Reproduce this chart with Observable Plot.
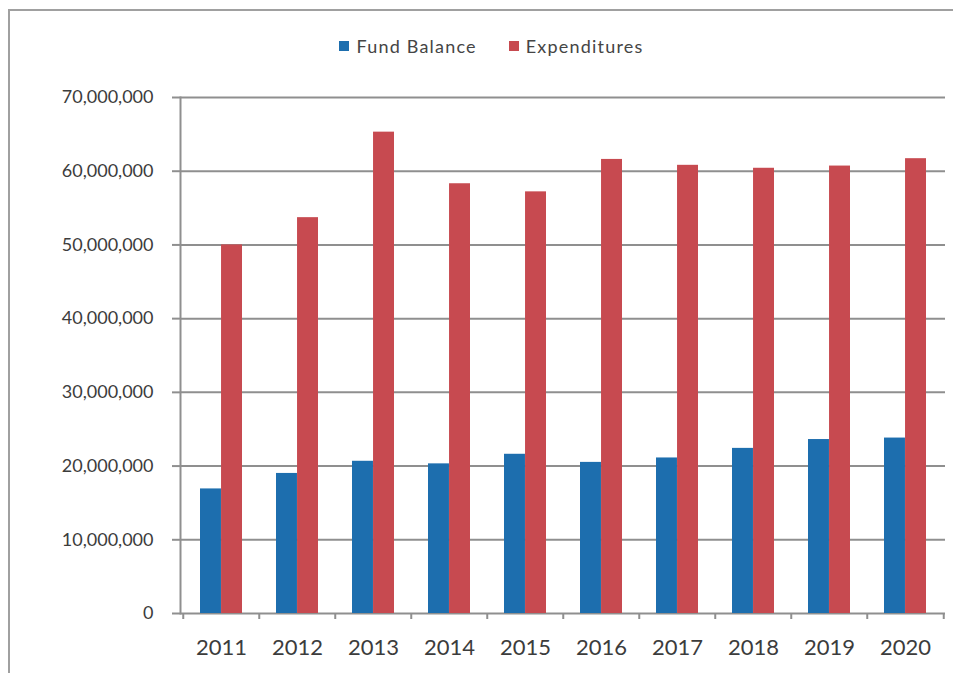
<!DOCTYPE html>
<html>
<head>
<meta charset="utf-8">
<script src="https://cdn.jsdelivr.net/npm/d3@7"></script>
<script src="https://cdn.jsdelivr.net/npm/@observablehq/plot@0.6"></script>
<style>
  html, body { margin: 0; padding: 0; background: #fff; }
  #wrap { position: relative; width: 953px; height: 673px; overflow: hidden; font-family: Lato, "Open Sans", sans-serif; }
  #frame { position: absolute; left: 8px; top: 9px; width: 960px; height: 700px; border: 2px solid #a0a0a0; box-sizing: border-box; }
  #legend { position: absolute; left: 0; top: 0; width: 953px; height: 70px; display: flex; justify-content: center; align-items: flex-start; padding-top: 35px; box-sizing: border-box; font-size: 18px; letter-spacing: 1.2px; color: #454545; gap: 32px; padding-left: 30px; }
  #legend .item { display: flex; align-items: center; gap: 7px; }
  #legend .sw { width: 10px; height: 10px; display: inline-block; }
  #chart { position: absolute; left: 0; top: 70px; }
</style>
</head>
<body>
<div id="wrap">
  <div id="frame"></div>
  <div id="legend"></div>
  <div id="chart"></div>
</div>
<script>
const years = ["2011","2012","2013","2014","2015","2016","2017","2018","2019","2020"];
const fundBalance = [16900000, 19000000, 20650000, 20300000, 21600000, 20500000, 21100000, 22400000, 23600000, 23800000];
const expenditures = [50000000, 53700000, 65300000, 58300000, 57200000, 61600000, 60800000, 60400000, 60700000, 61700000];
const seriesNames = ["Fund Balance", "Expenditures"];
const seriesColors = ["#1d6eae", "#c74a50"];
const yTicks = [0, 10000000, 20000000, 30000000, 40000000, 50000000, 60000000, 70000000];

const fbData = years.map((y, i) => ({year: y, value: fundBalance[i]}));
const exData = years.map((y, i) => ({year: y, value: expenditures[i]}));

// legend
const legend = document.getElementById("legend");
seriesNames.forEach((n, i) => {
  const it = document.createElement("span");
  it.className = "item";
  const sw = document.createElement("span");
  sw.className = "sw";
  sw.style.background = seriesColors[i];
  const t = document.createElement("span");
  t.textContent = n;
  it.appendChild(sw); it.appendChild(t);
  legend.appendChild(it);
});

const W = 953, H = 603, mL = 180, mR = 8;
const step = (W - mL - mR) / years.length;
const barW = step * 0.55 / 2;
const fmt = d3.format(",");

const chart = Plot.plot({
  width: W,
  height: H,
  marginLeft: mL,
  marginRight: mR,
  marginTop: 27,
  marginBottom: 60,
  style: {fontFamily: "Lato, 'Open Sans', sans-serif", fontSize: "18px", color: "#3c3c3c", background: "transparent"},
  x: {domain: years, paddingInner: 0.45, paddingOuter: 0.225, label: null},
  y: {domain: [0, 70000000], label: null},
  marks: [
    Plot.gridY(yTicks, {stroke: "#8f8f8f", strokeOpacity: 1, strokeWidth: 2}),
    Plot.axisY(yTicks, {tickSize: 8, tickPadding: 19, tickFormat: fmt, stroke: "#8f8f8f", strokeWidth: 2, label: null}),
    Plot.ruleX(years, {x: d => d, y1: 0, y2: 0, dx: -step / 2, insetTop: 0, insetBottom: -6, stroke: "#8f8f8f", strokeWidth: 2}),
    Plot.ruleX([years[years.length - 1]], {x: d => d, y1: 0, y2: 0, dx: step / 2, insetTop: 0, insetBottom: -6, stroke: "#8f8f8f", strokeWidth: 2}),
    Plot.barY(fbData, {x: "year", y: "value", fill: seriesColors[0], insetRight: barW}),
    Plot.barY(exData, {x: "year", y: "value", fill: seriesColors[1], insetLeft: barW}),
    Plot.axisX({tickSize: 0, tickPadding: 26, fontSize: 22, label: null}),
    Plot.frame({anchor: "left", stroke: "#8f8f8f", strokeWidth: 2})
  ]
});
document.getElementById("chart").appendChild(chart);
</script>
</body>
</html>
